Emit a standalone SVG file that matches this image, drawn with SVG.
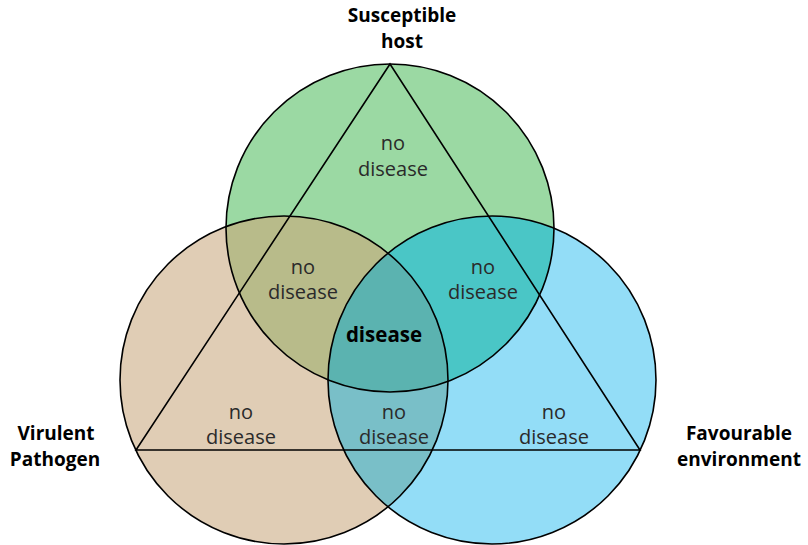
<svg xmlns="http://www.w3.org/2000/svg" width="808" height="545" viewBox="0 0 808 545">
<style>
.lbl{font-family:"Open Sans",Lato,"Liberation Sans",sans-serif;font-size:20px;fill:#2a2a2a;text-anchor:middle}
.ttl{font-family:"Open Sans",Lato,"Liberation Sans",sans-serif;font-size:19px;font-weight:bold;fill:#000;text-anchor:middle}
.ctr{font-family:"Open Sans",Lato,"Liberation Sans",sans-serif;font-size:20.5px;font-weight:bold;fill:#000;text-anchor:middle}
.ring{fill:none;stroke:#000;stroke-width:1.6}
</style>
<defs>
<clipPath id="cG"><circle cx="390" cy="228" r="164"/></clipPath>
<clipPath id="cP"><circle cx="284" cy="380" r="164"/></clipPath>
<clipPath id="cE"><circle cx="492" cy="380" r="164"/></clipPath>
</defs>
<rect width="808" height="545" fill="#fff"/>
<g id="fills">
<circle id="host" cx="390" cy="228" r="164" fill="#9BD9A3"/>
<circle id="pathogen" cx="284" cy="380" r="164" fill="#E0CDB5"/>
<circle id="environment" cx="492" cy="380" r="164" fill="#93DDF7"/>
<g clip-path="url(#cG)"><circle cx="284" cy="380" r="164" fill="#B8BB8A"/><circle cx="492" cy="380" r="164" fill="#4AC6C6"/></g>
<g clip-path="url(#cP)"><circle cx="492" cy="380" r="164" fill="#79BFC8"/></g>
<g clip-path="url(#cP)"><g clip-path="url(#cE)"><circle cx="390" cy="228" r="164" fill="#5BB3B0"/></g></g>
</g>
<g id="connectors">
<circle class="ring" cx="390" cy="228" r="164"/>
<circle class="ring" cx="284" cy="380" r="164"/>
<circle class="ring" cx="492" cy="380" r="164"/>
<polygon points="390,64 136,450 640,450" fill="none" stroke="#000" stroke-width="1.6" stroke-linejoin="miter"/>
</g>
<g id="labels">
<text class="ttl" x="402" y="22">Susceptible</text>
<text class="ttl" x="402" y="48">host</text>
<text class="ttl" x="56" y="440">Virulent</text>
<text class="ttl" x="55" y="466">Pathogen</text>
<text class="ttl" x="739" y="440">Favourable</text>
<text class="ttl" x="739" y="466">environment</text>
<text class="lbl" x="393" y="150">no</text><text class="lbl" x="393" y="176">disease</text>
<text class="lbl" x="303" y="274">no</text><text class="lbl" x="303" y="299">disease</text>
<text class="lbl" x="483" y="274">no</text><text class="lbl" x="483" y="299">disease</text>
<text class="lbl" x="241" y="419">no</text><text class="lbl" x="241" y="444">disease</text>
<text class="lbl" x="394" y="419">no</text><text class="lbl" x="394" y="444">disease</text>
<text class="lbl" x="554" y="419">no</text><text class="lbl" x="554" y="444">disease</text>
<text class="ctr" x="384" y="342">disease</text>
</g>
</svg>
